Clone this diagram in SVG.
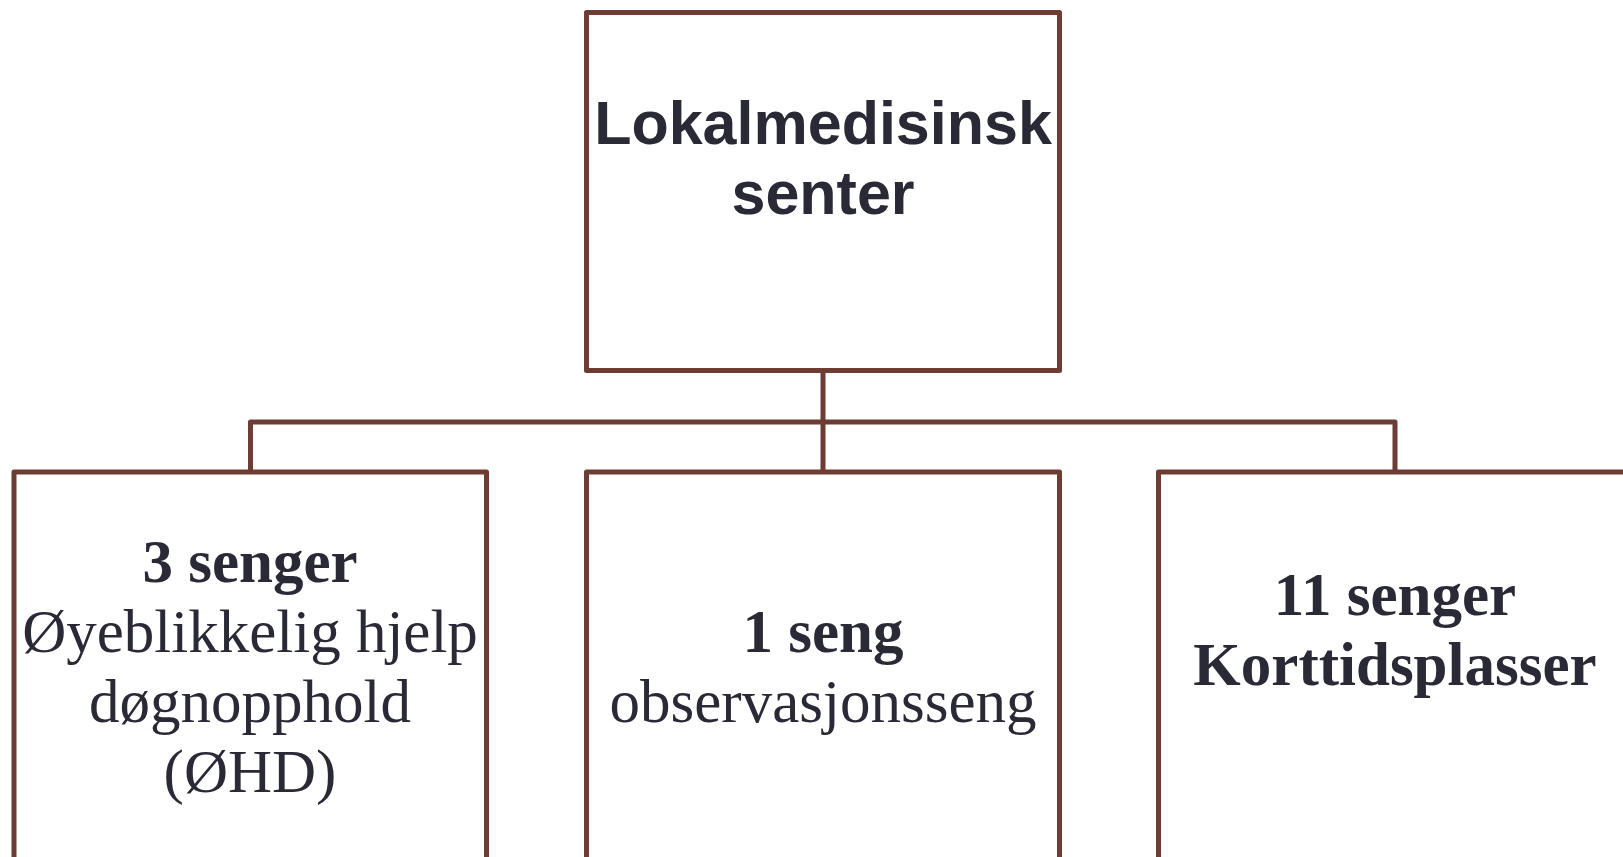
<svg xmlns="http://www.w3.org/2000/svg" width="1623" height="857" viewBox="0 0 1623 857">
  <style>
    .box { fill: #ffffff; stroke: #6d3d34; stroke-width: 5; stroke-linejoin: round; }
    .conn { fill: none; stroke: #6d3d34; stroke-width: 5; stroke-linejoin: round; stroke-linecap: butt; }
    .sans { font-family: "Liberation Sans", Arial, sans-serif; font-weight: bold; font-size: 61px; fill: #292a35; text-anchor: middle; }
    .serif { font-family: "Liberation Serif", "Times New Roman", serif; font-size: 61px; fill: #292a35; text-anchor: middle; }
    .b { font-weight: bold; }
  </style>
  <rect x="0" y="0" width="1623" height="857" fill="#ffffff"/>
  <g id="connectors">
    <path class="conn" d="M823,370.5 V422"/>
    <path class="conn" d="M250.5,472 V422 H1395 V472"/>
    <path class="conn" d="M823,422 V472"/>
  </g>
  <g id="node-top">
    <rect class="box" x="586.5" y="12.5" width="473" height="358"/>
    <text class="sans" x="823" y="144">Lokalmedisinsk</text>
    <text class="sans" x="823" y="214">senter</text>
  </g>
  <g id="node-left">
    <rect class="box" x="14" y="472" width="472.5" height="388"/>
    <text class="serif b" x="250" y="581.7">3 senger</text>
    <text class="serif" x="250" y="651.7">Øyeblikkelig hjelp</text>
    <text class="serif" x="250" y="721.7">døgnopphold</text>
    <text class="serif" x="250" y="791.7">(ØHD)</text>
  </g>
  <g id="node-middle">
    <rect class="box" x="586.5" y="472" width="473" height="388"/>
    <text class="serif b" x="823" y="651.7">1 seng</text>
    <text class="serif" x="823" y="721.7">observasjonsseng</text>
  </g>
  <g id="node-right">
    <rect class="box" x="1158.5" y="472" width="473" height="388"/>
    <text class="serif b" x="1395" y="615">11 senger</text>
    <text class="serif b" x="1395" y="685">Korttidsplasser</text>
  </g>
</svg>
